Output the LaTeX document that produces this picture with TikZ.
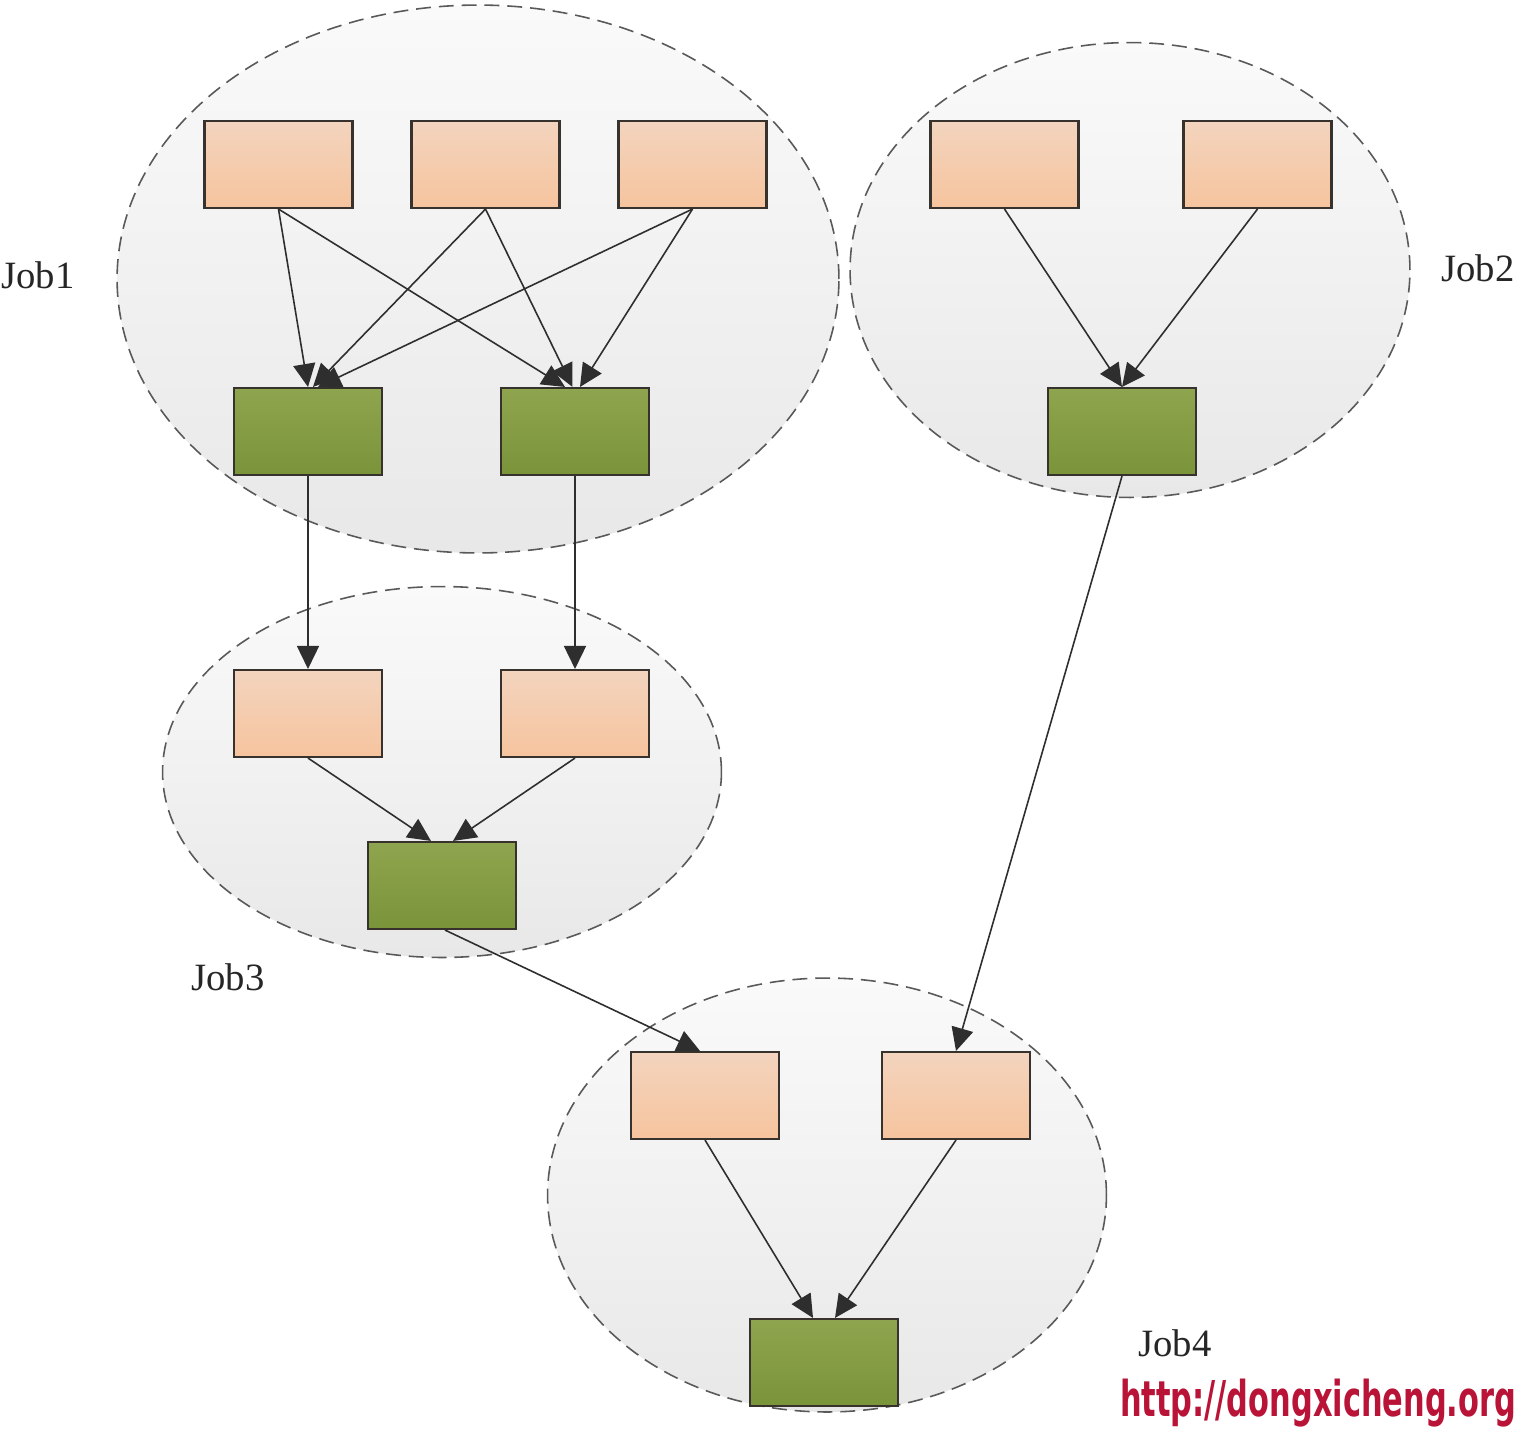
\documentclass[tikz,border=0pt]{standalone}
\usepackage{fontspec}
\setmainfont{Liberation Serif}
\newfontfamily\wmfont{DejaVu Sans Condensed}
\usetikzlibrary{arrows.meta,shapes.geometric}
\definecolor{boxline}{RGB}{55,50,45}
\definecolor{peachtop}{RGB}{243,212,190}
\definecolor{peachbot}{RGB}{246,196,158}
\definecolor{greentop}{RGB}{143,164,78}
\definecolor{greenbot}{RGB}{122,148,58}
\definecolor{wmred}{RGB}{185,20,55}
\begin{document}
\begin{tikzpicture}[x=0.02cm,y=-0.02cm,
  jobell/.style={ellipse, draw=black!65, line width=0.9pt, dash pattern=on 8.5pt off 4.5pt,
    top color=black!2, bottom color=black!9, inner sep=0pt},
  peach/.style={rectangle, draw=boxline, line width=1.2pt, top color=peachtop, bottom color=peachbot,
    minimum width=2.96cm, minimum height=1.74cm, inner sep=0pt},
  green/.style={rectangle, draw=boxline, line width=1.2pt, top color=greentop, bottom color=greenbot,
    minimum width=2.96cm, minimum height=1.74cm, inner sep=0pt},
  arr/.style={draw=black!82, line width=0.9pt, -{Triangle[length=0.46cm,width=0.44cm]}},
  joblabel/.style={font=\fontsize{22}{26}\selectfont, text=black!85}
]
\useasboundingbox[fill=white] (0,0) rectangle (1524,1440);

% job ellipses
\node[jobell, minimum width=14.44cm, minimum height=10.96cm] (job1) at (478,279) {};
\node[jobell, minimum width=11.2cm, minimum height=9.1cm] (job2) at (1130,270) {};
\node[jobell, minimum width=11.18cm, minimum height=7.42cm] (job3) at (442,772) {};
\node[jobell, minimum width=11.18cm, minimum height=8.68cm] (job4) at (827,1195) {};

% boxes
\node[peach] (a1) at (278.5,164.5) {};
\node[peach] (a2) at (485.5,164.5) {};
\node[peach] (a3) at (692.5,164.5) {};
\node[green] (g1) at (308,431.5) {};
\node[green] (g2) at (575,431.5) {};

\node[peach] (b1) at (1004.5,164.5) {};
\node[peach] (b2) at (1257.5,164.5) {};
\node[green] (h1) at (1122,431.5) {};

\node[peach] (c1) at (308,713.5) {};
\node[peach] (c2) at (575,713.5) {};
\node[green] (g3) at (442,885.5) {};

\node[peach] (d1) at (705,1095.5) {};
\node[peach] (d2) at (956,1095.5) {};
\node[green] (g4) at (824,1362.5) {};

% arrows job1
\draw[arr] (a1.south) -- ([xshift=0.0cm]g1.north);
\draw[arr] (a2.south) -- ([xshift=0.1cm]g1.north);
\draw[arr] (a3.south) -- ([xshift=0.2cm]g1.north);
\draw[arr] (a1.south) -- ([xshift=-0.2cm]g2.north);
\draw[arr] (a2.south) -- ([xshift=-0.05cm]g2.north);
\draw[arr] (a3.south) -- ([xshift=0.1cm]g2.north);
% job2
\draw[arr] (b1.south) -- (h1.north);
\draw[arr] (b2.south) -- (h1.north);
% job1 -> job3
\draw[arr] (g1.south) -- (c1.north);
\draw[arr] (g2.south) -- (c2.north);
% job3
\draw[arr] (c1.south) -- ([xshift=-0.22cm]g3.north);
\draw[arr] (c2.south) -- ([xshift=0.22cm]g3.north);
% to job4
\draw[arr] ([xshift=0.06cm]g3.south) -- ([xshift=-0.1cm]d1.north);
\draw[arr] (h1.south) -- (d2.north);
% job4
\draw[arr] (d1.south) -- ([xshift=-0.22cm]g4.north);
\draw[arr] (d2.south) -- ([xshift=0.22cm]g4.north);

% labels
\node[joblabel] (l1) at (38,275) {Job1};
\node[joblabel] (l2) at (1478,268) {Job2};
\node[joblabel] (l3) at (228,977) {Job3};
\node[joblabel] (l4) at (1175,1343) {Job4};

\node[text=wmred, inner sep=0pt] (wm) at (1318,1403)
  {\scalebox{0.74}[1.08]{\fontsize{26}{30}\selectfont\wmfont\bfseries http://dongxicheng.org}};
\end{tikzpicture}
\end{document}
